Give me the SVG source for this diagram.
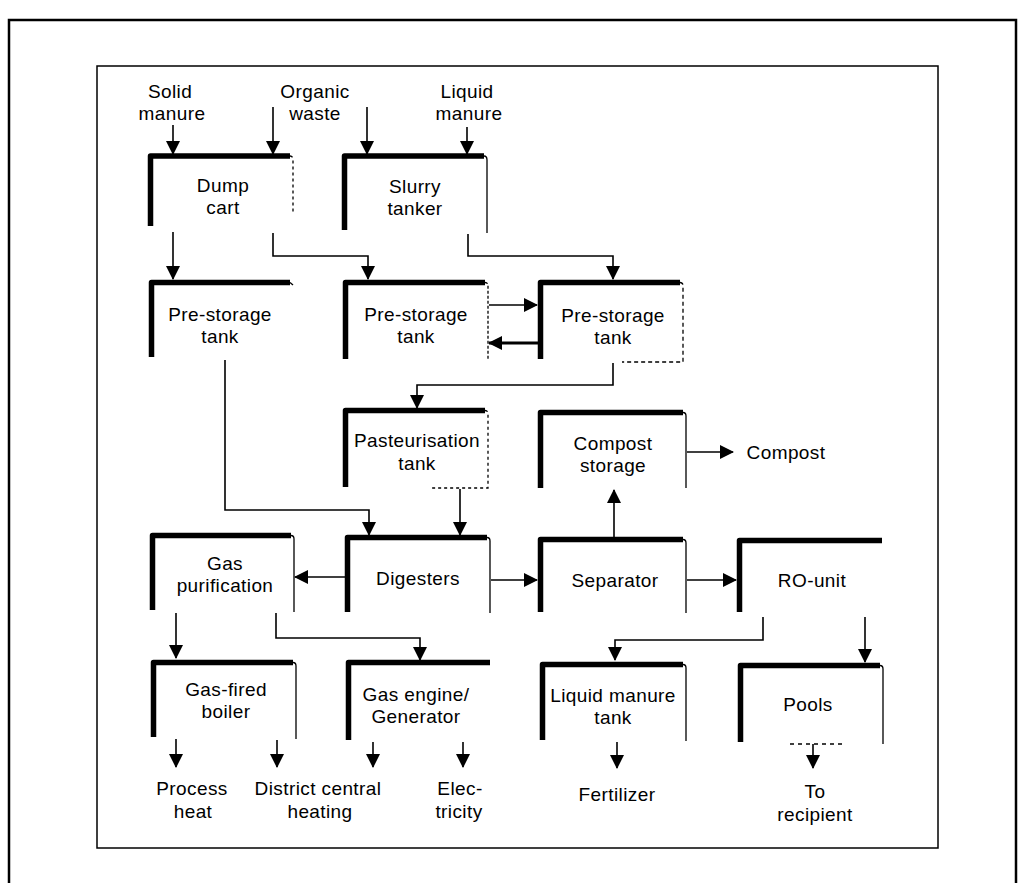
<svg xmlns="http://www.w3.org/2000/svg" width="1020" height="883" viewBox="0 0 1020 883">
<defs>
<marker id="ah" markerUnits="userSpaceOnUse" markerWidth="14" markerHeight="14" refX="13" refY="7" orient="auto">
<path d="M0,0 L14,7 L0,14 Z" fill="#000"/>
</marker>
<style>
.frame{fill:none;stroke:#000}
.bar{fill:none;stroke:#000;stroke-width:5.5;stroke-linejoin:round}
.side{fill:none;stroke:#000;stroke-width:1.3}
.con{fill:none;stroke:#000;stroke-width:1.6;marker-end:url(#ah)}
.con2{fill:none;stroke:#000;stroke-width:2.8;marker-end:url(#ah)}
text{font-family:"Liberation Sans",Arial,sans-serif;font-size:19px;letter-spacing:0.4px;fill:#000;text-anchor:middle}
</style>
</defs>
<rect width="1020" height="883" fill="#fff"/>
<rect class="frame" x="9" y="20" width="1007" height="880" stroke-width="2.5"/>
<rect class="frame" x="97" y="66" width="841" height="782" stroke-width="1.5"/>

<g id="input-labels">
<text x="170" y="98">Solid</text><text x="172" y="120">manure</text>
<text x="315" y="98">Organic</text><text x="315" y="120">waste</text>
<text x="467" y="98">Liquid</text><text x="469" y="120">manure</text>
</g>

<g id="dump-cart">
<path class="bar" d="M150.5,226 V156 H290"/><path class="side" d="M290,156 Q293,156 293,160 V212" stroke-dasharray="3,3"/>
<text x="223" y="192">Dump</text><text x="223" y="214">cart</text>
</g>
<g id="slurry-tanker">
<path class="bar" d="M344.5,230 V156 H484"/><path class="side" d="M484,156 Q487,156 487,160 V233"/>
<text x="415" y="193">Slurry</text><text x="415" y="215">tanker</text>
</g>
<g id="pre-storage-1">
<path class="bar" d="M151.5,357 V282.5 H290"/><path class="side" d="M290,282.5 L293,285"/>
<text x="220" y="321">Pre-storage</text><text x="220" y="343">tank</text>
</g>
<g id="pre-storage-2">
<path class="bar" d="M345.5,359 V282.5 H485"/><path class="side" d="M485,282.5 Q488,282.5 488,286 V360" stroke-dasharray="3,2"/>
<text x="416" y="321">Pre-storage</text><text x="416" y="343">tank</text>
</g>
<g id="pre-storage-3">
<path class="bar" d="M540.5,359 V282.5 H680"/><path class="side" d="M680,282.5 Q683,282.5 683,286 V362 H622" stroke-dasharray="4,3"/>
<text x="613" y="322">Pre-storage</text><text x="613" y="344">tank</text>
</g>
<g id="pasteurisation-tank">
<path class="bar" d="M345.5,487 V410.5 H485"/><path class="side" d="M485,410.5 Q488,410.5 488,414 V488 H430" stroke-dasharray="3,3"/>
<text x="417" y="447">Pasteurisation</text><text x="417" y="470">tank</text>
</g>
<g id="compost-storage">
<path class="bar" d="M540.5,488 V412.5 H683"/><path class="side" d="M683,412.5 Q686,412.5 686,416 V488"/>
<text x="613" y="450">Compost</text><text x="613" y="472">storage</text>
</g>
<g id="gas-purification">
<path class="bar" d="M152.5,610 V535.5 H291"/><path class="side" d="M291,535.5 Q294,535.5 294,539 V612"/>
<text x="225" y="570">Gas</text><text x="225" y="592">purification</text>
</g>
<g id="digesters">
<path class="bar" d="M347.5,612 V537.5 H487"/><path class="side" d="M487,537.5 Q490,537.5 490,541 V613"/>
<text x="418" y="585">Digesters</text>
</g>
<g id="separator">
<path class="bar" d="M540.5,612 V539.5 H683"/><path class="side" d="M683,539.5 Q686,539.5 686,543 V613"/>
<text x="615" y="587">Separator</text>
</g>
<g id="ro-unit">
<path class="bar" d="M739.5,612 V540.5 H882"/>
<text x="812" y="587">RO-unit</text>
</g>
<g id="gas-fired-boiler">
<path class="bar" d="M153.5,737 V662.5 H293"/><path class="side" d="M293,662.5 Q296,662.5 296,666 V739"/>
<text x="226" y="696">Gas-fired</text><text x="226" y="718">boiler</text>
</g>
<g id="gas-engine-generator">
<path class="bar" d="M348.5,740 V662.5 H490"/>
<text x="416" y="701">Gas engine/</text><text x="416" y="723">Generator</text>
</g>
<g id="liquid-manure-tank">
<path class="bar" d="M542.5,740 V664.5 H683"/><path class="side" d="M683,664.5 Q686,664.5 686,668 V741"/>
<text x="613" y="702">Liquid manure</text><text x="613" y="724">tank</text>
</g>
<g id="pools">
<path class="bar" d="M740.5,742 V665.5 H880"/><path class="side" d="M880,665.5 Q883,665.5 883,669 V744"/><path class="side" d="M790,744 H842" stroke-dasharray="4,4"/>
<text x="808" y="711">Pools</text>
</g>

<g id="output-labels">
<text x="786" y="459">Compost</text>
<text x="192" y="795">Process</text><text x="193" y="818">heat</text>
<text x="318" y="795">District central</text><text x="320" y="818">heating</text>
<text x="460" y="795">Elec-</text><text x="459" y="818">tricity</text>
<text x="617" y="801">Fertilizer</text>
<text x="815" y="798">To</text><text x="815" y="821">recipient</text>
</g>

<g id="connectors">
<path class="con" d="M173,125 V154"/>
<path class="con" d="M273,107 V154"/>
<path class="con" d="M367,107 V154"/>
<path class="con" d="M467,127 V154"/>
<path class="con" d="M173,232 V279"/>
<path class="con" d="M273,233 V256 H368 V279"/>
<path class="con" d="M468,234 V256 H613 V279"/>
<path class="con" d="M489,305 H537"/>
<path class="con2" d="M538,343 H489"/>
<path class="con" d="M613,363 V385 H417 V408"/>
<path class="con" d="M225,360 V510 H369 V535"/>
<path class="con" d="M460,489 V535"/>
<path class="con" d="M345,577 H295"/>
<path class="con" d="M491,580 H537"/>
<path class="con" d="M614,538 V490"/>
<path class="con" d="M687,452 H733"/>
<path class="con" d="M687,580 H736"/>
<path class="con" d="M763,617 V640 H615 V660"/>
<path class="con" d="M865,617 V662"/>
<path class="con" d="M176,613 V658"/>
<path class="con" d="M276,613 V638 H420 V660"/>
<path class="con" d="M176,739 V767"/>
<path class="con" d="M277,740 V767"/>
<path class="con" d="M373,742 V767"/>
<path class="con" d="M463,742 V767"/>
<path class="con" d="M617,742 V768"/>
<path class="con" d="M813,744 V768"/>
</g>
</svg>
